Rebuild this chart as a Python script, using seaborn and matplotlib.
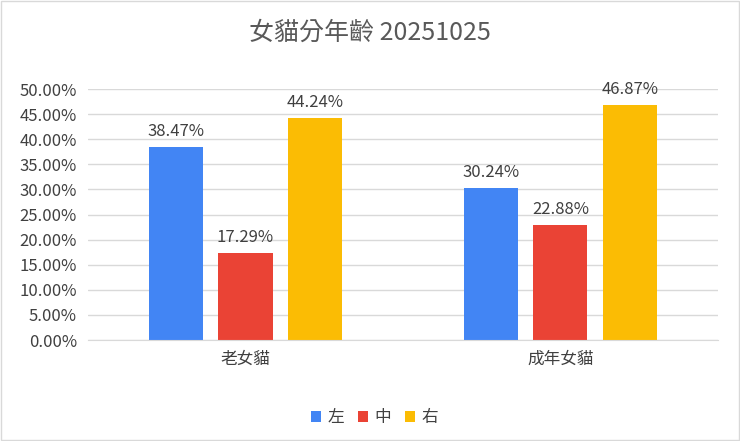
import matplotlib
matplotlib.use("Agg")
import matplotlib.pyplot as plt
import seaborn as sns
import pandas as pd
from matplotlib.ticker import FuncFormatter

categories = ["老女貓", "成年女貓"]
sides = ["左", "中", "右"]
left_vals = [38.47, 30.24]
mid_vals = [17.29, 22.88]
right_vals = [44.24, 46.87]
colors = ["#4285F4", "#EA4335", "#FBBC04"]

rows = []
for i, c in enumerate(categories):
    for s, vals in zip(sides, [left_vals, mid_vals, right_vals]):
        rows.append({"cat": c, "side": s, "val": vals[i]})
df = pd.DataFrame(rows)

sns.set_style("white")
plt.rcParams['font.family'] = ['Noto Sans CJK TC', 'DejaVu Sans']

fig = plt.figure(figsize=(7.4, 4.41), dpi=100)
fig.patches.append(plt.Rectangle((0.002, 0.002), 0.996, 0.996, transform=fig.transFigure,
                                 fill=False, edgecolor="#d9d9d9", linewidth=1))
ax = fig.add_axes([0.119, 0.229, 0.851, 0.569])
sns.barplot(data=df, x="cat", y="val", hue="side", palette=colors, width=0.66, gap=0.22,
            saturation=1, linewidth=0, ax=ax, legend=True)
for cont in ax.containers:
    ax.bar_label(cont, labels=[f"{v:.2f}%" for v in cont.datavalues], padding=5,
                 fontsize=12, color="#404040")

ax.set_ylim(0, 50)
ax.set_xlim(-0.5, 1.5)
ax.set_yticks(range(0, 51, 5))
ax.yaxis.set_major_formatter(FuncFormatter(lambda v, p: f"{v:.2f}%"))
ax.grid(axis="y", color="#d9d9d9", linewidth=1)
ax.set_axisbelow(True)
for sp in ["top", "right", "left"]:
    ax.spines[sp].set_visible(False)
ax.spines["bottom"].set_color("#d9d9d9")
ax.tick_params(axis="both", length=0, labelsize=12, colors="#404040", pad=8)
ax.set_xlabel("")
ax.set_ylabel("")
fig.suptitle("女貓分年齡 20251025", y=0.955, fontsize=18, color="#595959")
ax.legend(loc="center", bbox_to_anchor=(0.455, -0.31), ncol=3, frameon=False, fontsize=12,
          handlelength=0.6, handleheight=0.6, columnspacing=0.8, handletextpad=0.4,
          labelcolor="#404040")
fig.savefig("out.png", dpi=100)
